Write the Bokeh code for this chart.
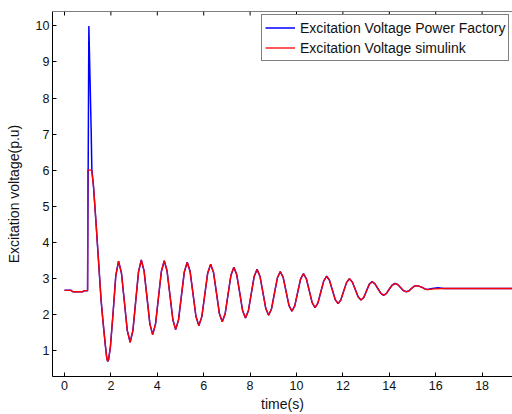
from bokeh.plotting import figure
from bokeh.models import Range1d, FixedTicker, Legend, LegendItem, Span
from bokeh.embed import file_html
from bokeh.resources import INLINE

# ---- data ----
t_pre = [0.0, 0.28, 0.36, 0.78, 0.86, 0.995]
v_pre = [2.67, 2.67, 2.63, 2.63, 2.66, 2.66]

# Power Factory spike
t_pf_spike = [1.05, 1.15, 1.18]
v_pf_spike = [10.0, 7.1, 6.0]

# Simulink limited step
t_sim_step = [1.0, 1.17]
v_sim_step = [6.0, 6.0]

# common decay after the fault
t_decay = [1.25, 1.35, 1.46, 1.575, 1.66, 1.76, 1.82, 1.86, 1.90]
v_decay = [5.55, 4.63, 3.55, 2.42, 1.80, 1.15, 0.80, 0.70, 0.75]

# damped oscillation
t_osc = [1.98, 2.10, 2.21, 2.33, 2.455, 2.58, 2.705, 2.83, 2.95, 3.07, 3.19, 3.31,
         3.43, 3.555, 3.68, 3.80, 3.925, 4.05, 4.175, 4.30, 4.42, 4.545, 4.67, 4.79,
         4.915, 5.04, 5.165, 5.29, 5.415, 5.54, 5.665, 5.79, 5.92, 6.045, 6.17, 6.30,
         6.425, 6.55, 6.675, 6.80, 6.925, 7.05, 7.175, 7.30, 7.425, 7.55, 7.675, 7.80,
         7.925, 8.05, 8.175, 8.30, 8.425, 8.55, 8.675, 8.80, 8.925, 9.05, 9.175, 9.30,
         9.425, 9.55, 9.675, 9.80, 9.925, 10.05, 10.175, 10.30, 10.425, 10.55, 10.675, 10.80,
         10.925, 11.05, 11.175, 11.30, 11.42, 11.545, 11.67, 11.79, 11.91, 12.035, 12.16, 12.28,
         12.405, 12.53, 12.655, 12.78, 12.90, 13.02, 13.14, 13.26, 13.38, 13.505, 13.63, 13.75,
         13.87, 13.995, 14.12, 14.24, 14.36, 14.485, 14.61, 14.73, 14.84, 14.955, 15.07, 15.18,
         15.30, 15.415, 15.53, 15.65]
v_osc = [1.11, 2.09, 3.07, 3.48, 3.15, 2.36, 1.56, 1.23, 1.56, 2.37, 3.18, 3.51,
         3.21, 2.48, 1.74, 1.44, 1.74, 2.47, 3.19, 3.49, 3.21, 2.54, 1.86, 1.58,
         1.85, 2.52, 3.18, 3.45, 3.19, 2.57, 1.95, 1.69, 1.94, 2.54, 3.14, 3.39,
         3.16, 2.60, 2.03, 1.80, 2.02, 2.56, 3.09, 3.31, 3.10, 2.61, 2.11, 1.90,
         2.10, 2.58, 3.05, 3.25, 3.06, 2.62, 2.17, 1.98, 2.16, 2.59, 3.01, 3.19,
         3.03, 2.64, 2.25, 2.09, 2.24, 2.61, 2.98, 3.13, 2.99, 2.66, 2.33, 2.19,
         2.32, 2.63, 2.93, 3.06, 2.95, 2.68, 2.41, 2.30, 2.40, 2.65, 2.89, 2.99,
         2.90, 2.70, 2.49, 2.40, 2.47, 2.66, 2.84, 2.91, 2.85, 2.72, 2.59, 2.53,
         2.58, 2.70, 2.81, 2.86, 2.83, 2.75, 2.66, 2.63, 2.65, 2.72, 2.78, 2.80,
         2.78, 2.75, 2.71, 2.69]

# tails
t_tail_pf = [15.85, 16.1, 16.35, 19.6]
v_tail_pf = [2.72, 2.74, 2.72, 2.72]
t_tail_sim = [15.9, 16.3, 19.6]
v_tail_sim = [2.71, 2.72, 2.72]

x_ticks = [0, 2, 4, 6, 8, 10, 12, 14, 16, 18]
y_ticks = [1, 2, 3, 4, 5, 6, 7, 8, 9, 10]

label_pf = "Excitation Voltage Power Factory"
label_sim = "Excitation Voltage simulink"

# ---- build series ----
t_pf = t_pre + t_pf_spike + t_decay + t_osc + t_tail_pf
v_pf = v_pre + v_pf_spike + v_decay + v_osc + v_tail_pf
t_sim = t_pre + t_sim_step + t_decay + t_osc + t_tail_sim
v_sim = v_pre + v_sim_step + v_decay + v_osc + v_tail_sim

FONT = "Liberation Sans"
X0, X1 = -0.517, 19.31
Y0, Y1 = 0.28, 10.40

p = figure(width=512, height=414, output_backend="svg", toolbar_location=None,
           x_range=Range1d(X0, X1), y_range=Range1d(Y0, Y1),
           min_border_left=52, min_border_right=0, min_border_top=11, min_border_bottom=37)
p.outline_line_color = None
p.xgrid.visible = False
p.ygrid.visible = False
p.background_fill_color = "white"
p.border_fill_color = "white"

r_pf = p.line(t_pf, v_pf, line_color="#0000ff", line_width=1.5)
r_sim = p.line(t_sim, v_sim, line_color="#ff0000", line_width=1.3)

xa = p.xaxis[0]
xa.ticker = FixedTicker(ticks=x_ticks)
ya = p.yaxis[0]
ya.ticker = FixedTicker(ticks=y_ticks)
for ax in (xa, ya):
    ax.axis_line_color = "black"
    ax.major_tick_in = 4
    ax.major_tick_out = 0
    ax.major_tick_line_color = "black"
    ax.minor_tick_line_color = None
    ax.major_label_text_font = FONT
    ax.major_label_text_font_size = "12.5px"
    ax.major_label_text_color = "#111111"
    ax.axis_label_text_font = FONT
    ax.axis_label_text_font_size = "14px"
    ax.axis_label_text_font_style = "normal"
    ax.axis_label_text_color = "#111111"
xa.axis_label = "time(s)"
xa.major_label_standoff = 4
xa.axis_label_standoff = 3
ya.axis_label = "Excitation voltage(p.u)"
ya.major_label_standoff = 3
ya.axis_label_standoff = 11

# top frame line with inward ticks (MATLAB box style)
p.add_layout(Span(location=Y1, dimension="width", line_color="black", line_width=1))
tick_len = (Y1 - Y0) * 4.0 / 366.0
p.segment(x0=x_ticks, x1=x_ticks, y0=[Y1] * len(x_ticks), y1=[Y1 - tick_len] * len(x_ticks),
          line_color="black", line_width=1)

legend = Legend(items=[LegendItem(label=label_pf, renderers=[r_pf]),
                       LegendItem(label=label_sim, renderers=[r_sim])],
                location=(209, 315), orientation="vertical",
                label_text_font=FONT, label_text_font_size="14px", label_text_color="#111111",
                glyph_width=30, glyph_height=19, label_height=19, label_standoff=5,
                spacing=1, padding=3, margin=0,
                border_line_color="black", border_line_width=1,
                background_fill_color="white", background_fill_alpha=1.0)
p.add_layout(legend, "center")

open("out.html", "w").write(file_html(p, INLINE))
